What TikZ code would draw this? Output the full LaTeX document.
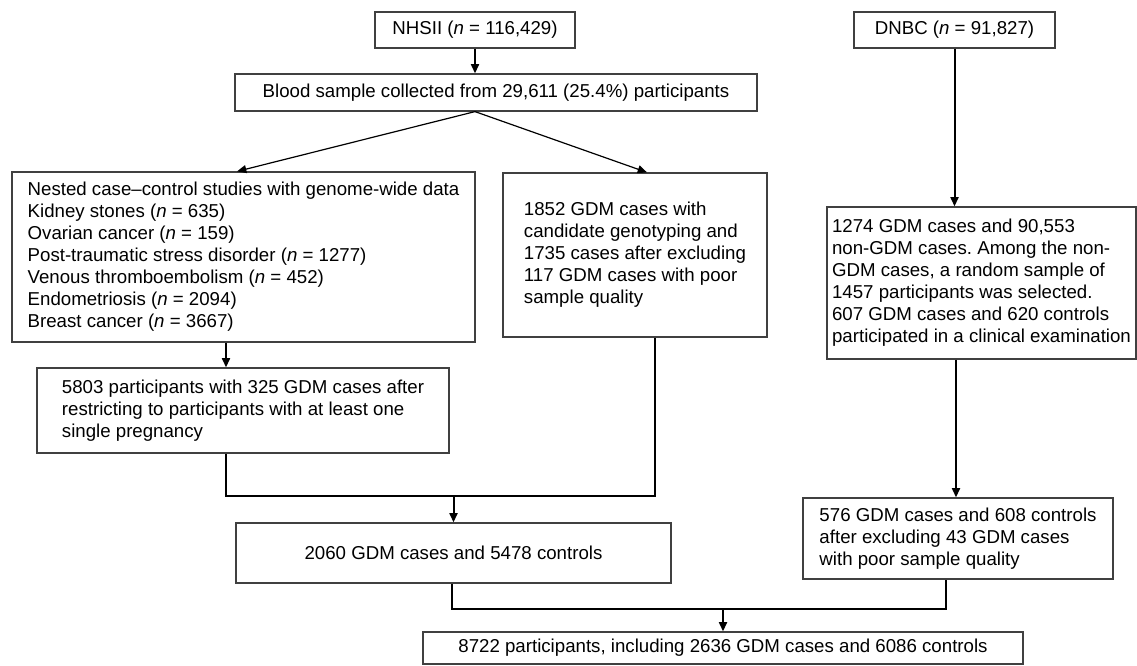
\documentclass[tikz,border=0pt]{standalone}
\usepackage{fontspec}
\setmainfont{Liberation Sans}
\usetikzlibrary{arrows.meta,calc}
\frenchspacing
\begin{document}
\begin{tikzpicture}[x=0.75pt,y=-0.75pt,
  box/.style={draw=black!75,line width=0.9pt,inner sep=0pt,align=left,fill=white,
    font=\fontsize{14}{16.5}\selectfont},
  arr/.style={-{Triangle[length=7pt,width=6pt]},line width=1.5pt},
  darr/.style={-{Triangle[length=7pt,width=6pt]},line width=0.9pt},
  elb/.style={line width=1.6pt}]
\useasboundingbox (0,0) rectangle (1137,665);
\fill[white] (0,0) rectangle (1137,665);

\node[box,minimum width=150pt,minimum height=27pt] (nhs) at (475,30) {NHSII (\textit{n} = 116,429)};
\node[box,minimum width=150.75pt,minimum height=27pt] (dnbc) at (954.5,30) {DNBC (\textit{n} = 91,827)};
\node[box,minimum width=391.5pt,minimum height=27.75pt] (blood) at (496,92.5) {Blood sample collected from 29,611 (25.4\%) participants};
\node[box,minimum width=347.25pt,minimum height=127.5pt] (nested) at (243.5,257) {Nested case–control studies with genome-wide data\\
Kidney stones (\textit{n} = 635)\\
Ovarian cancer (\textit{n} = 159)\\
Post-traumatic stress disorder (\textit{n} = 1277)\\
Venous thromboembolism (\textit{n} = 452)\\
Endometriosis (\textit{n} = 2094)\\
Breast cancer (\textit{n} = 3667)};
\node[box,minimum width=198pt,minimum height=123pt] (gen) at (635,255) {1852 GDM cases with\\
candidate genotyping and\\
1735 cases after excluding\\
117 GDM cases with poor\\
sample quality};
\node[box,minimum width=231.75pt,minimum height=114pt] (dnbc2) at (981.5,283) {1274 GDM cases and 90,553\\
non-GDM cases. Among the non-\\
GDM cases, a random sample of\\
1457 participants was selected.\\
607 GDM cases and 620 controls\\
participated in a clinical examination};
\node[box,minimum width=309pt,minimum height=63.75pt] (p5803) at (243,410.5) {5803 participants with 325 GDM cases after\\
restricting to participants with at least one\\
single pregnancy};
\node[box,minimum width=326.25pt,minimum height=45pt] (c2060) at (453.5,553) {2060 GDM cases and 5478 controls};
\node[box,minimum width=232.5pt,minimum height=60.75pt] (c576) at (958,538.5) {576 GDM cases and 608 controls\\
after excluding 43 GDM cases\\
with poor sample quality};
\node[box,minimum width=450pt,minimum height=24pt] (final) at (723,648) {8722 participants, including 2636 GDM cases and 6086 controls};

\draw[arr] (nhs.south) -- (nhs.south |- blood.north);
\coordinate (bs) at (nhs.south |- blood.south);
\draw[darr] (bs) -- ($(nested.north)+(-6.5,0)$);
\draw[darr] (bs) -- ($(gen.north)+(12,0)$);
\draw[arr] (dnbc.south) -- (dnbc.south |- dnbc2.north);
\coordinate (n1) at ($(nested.south)+(-17.5,0)$);
\draw[arr] (n1) -- (n1 |- p5803.north);
\coordinate (p1) at (n1 |- p5803.south);
\coordinate (g1) at ($(gen.south)+(20,0)$);
\coordinate (j1) at (453.5,496);
\draw[elb] (p1) |- (j1) -| (g1);
\draw[arr] (j1) -- (c2060.north);
\coordinate (d1) at ($(dnbc2.south)+(-25.5,0)$);
\draw[arr] (d1) -- (d1 |- c576.north);
\coordinate (c1) at ($(c2060.south)+(-1.5,0)$);
\coordinate (c2) at ($(c576.south)+(-12,0)$);
\coordinate (j2) at (723,609);
\draw[elb] (c1) |- (j2) -| (c2);
\draw[arr] (j2) -- (final.north);
\end{tikzpicture}
\end{document}
